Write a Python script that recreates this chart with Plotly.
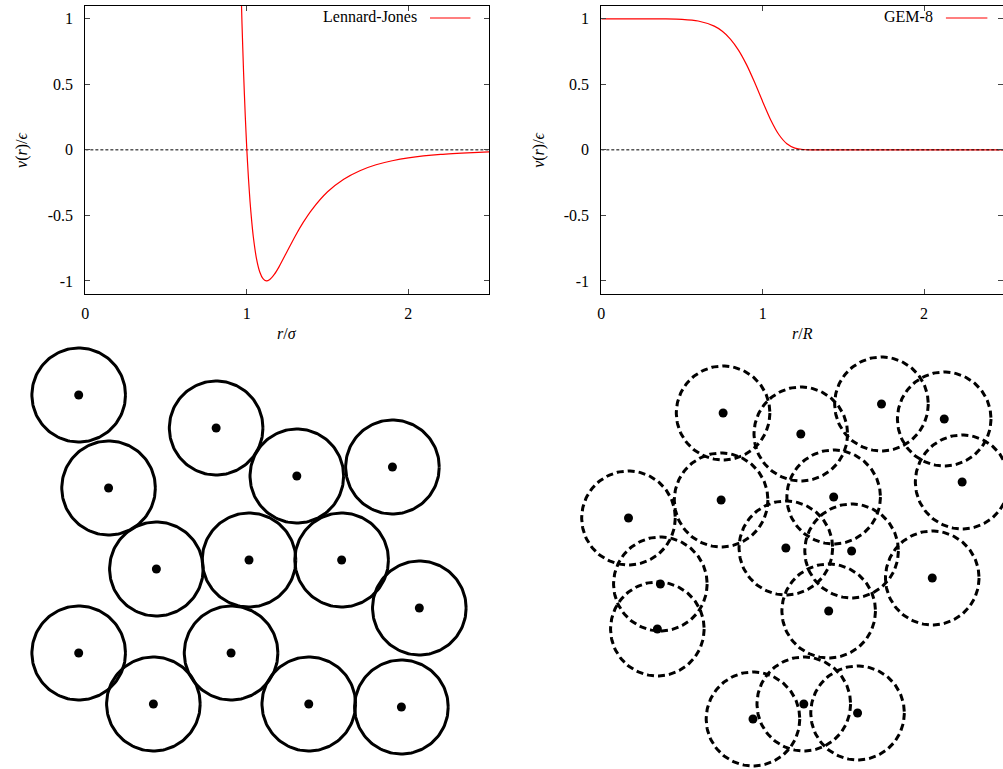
import numpy as np
import plotly.graph_objects as go

# ---------------- data ----------------
lj_r = [0.96, 0.97, 0.98, 0.99, 1.00, 1.01, 1.02, 1.03, 1.04, 1.06, 1.08, 1.10, 1.12,
        1.14, 1.17, 1.20, 1.25, 1.30, 1.35, 1.40, 1.50, 1.60, 1.70, 1.80, 1.90, 2.00,
        2.20, 2.40, 2.50]
lj_v = [1.418, 0.963, 0.582, 0.264, 0.0, -0.218, -0.398, -0.544, -0.663, -0.832, -0.932,
        -0.983, -1.000, -0.992, -0.951, -0.891, -0.774, -0.657, -0.552, -0.461, -0.320,
        -0.224, -0.159, -0.114, -0.083, -0.0615, -0.035, -0.021, -0.016]

gem_r = [0.0, 0.3, 0.4, 0.5, 0.6, 0.7, 0.75, 0.8, 0.85, 0.9, 0.95, 1.0, 1.05, 1.1, 1.15,
         1.2, 1.25, 1.3, 1.4, 1.6, 2.0, 2.5]
gem_v = [1.0, 1.0, 0.9993, 0.9961, 0.9833, 0.9440, 0.9047, 0.8455, 0.7615, 0.6502, 0.5151,
         0.3679, 0.2282, 0.1172, 0.0469, 0.0136, 0.0026, 0.0003, 0.0, 0.0, 0.0, 0.0]

zero_x = [0.0, 2.5]
zero_y = [0.0, 0.0]

y_ticks = [-1, -0.5, 0, 0.5, 1]
y_ticklabels = ["-1", "-0.5", "0", "0.5", "1"]
x_ticks = [0, 1, 2]
x_ticklabels = ["0", "1", "2"]

# particle centres (hard spheres, left) and soft particles (right)
hard_x = [75, 213, 105, 294, 390, 153, 246, 339, 417, 75, 228, 150, 306, 399]
hard_y = [395, 428, 488, 476, 467, 569, 560, 560, 608, 653, 653, 704, 704, 707]
soft_x = [722, 800, 881, 944, 962, 627, 720, 833, 785, 851, 932, 659, 656, 828, 752, 803, 857]
soft_y = [413, 434, 404, 419, 482, 518, 500, 497, 548, 551, 578, 584, 629, 611, 719, 704, 713]
particle_radius = 47

# ---------------- layout helpers ----------------
W, H = 1003, 769
FONT = "Liberation Serif, DejaVu Serif, serif"
UNIT = 162.0  # pixels per unit r on the top panels


def px(x):
    return x / W


def py(y):
    return 1 - y / H


def circle_path(cx, cy, r, n=140):
    xs, ys = [], []
    th = np.linspace(0, 2 * np.pi, n)
    for x0, y0 in zip(cx, cy):
        xs += list(x0 + r * np.cos(th)) + [None]
        ys += list(y0 + r * np.sin(th)) + [None]
    return xs, ys


fig = go.Figure()

# top-left: Lennard-Jones
fig.add_trace(go.Scatter(x=zero_x, y=zero_y, mode="lines", xaxis="x", yaxis="y",
                         line=dict(color="black", width=1, dash="3px,2px"), showlegend=False))
fig.add_trace(go.Scatter(x=lj_r, y=lj_v, mode="lines", xaxis="x", yaxis="y",
                         line=dict(color="#ff0000", width=1.2, shape="spline", smoothing=0.6),
                         showlegend=False))
# top-right: GEM-8
fig.add_trace(go.Scatter(x=zero_x, y=zero_y, mode="lines", xaxis="x2", yaxis="y4",
                         line=dict(color="black", width=1, dash="3px,2px"), showlegend=False))
fig.add_trace(go.Scatter(x=gem_r, y=gem_v, mode="lines", xaxis="x2", yaxis="y2",
                         line=dict(color="#ff0000", width=1.2, shape="spline", smoothing=0.6),
                         showlegend=False))

# bottom: particles
hx, hy = circle_path(hard_x, hard_y, particle_radius)
fig.add_trace(go.Scatter(x=hx, y=hy, mode="lines", xaxis="x3", yaxis="y3",
                         line=dict(color="black", width=3), showlegend=False))
fig.add_trace(go.Scatter(x=hard_x, y=hard_y, mode="markers", xaxis="x3", yaxis="y3",
                         marker=dict(color="black", size=9), showlegend=False))
sx, sy = circle_path(soft_x, soft_y, particle_radius)
fig.add_trace(go.Scatter(x=sx, y=sy, mode="lines", xaxis="x3", yaxis="y3",
                         line=dict(color="black", width=3, dash="7px,4px"), showlegend=False))
fig.add_trace(go.Scatter(x=soft_x, y=soft_y, mode="markers", xaxis="x3", yaxis="y3",
                         marker=dict(color="black", size=9), showlegend=False))

tickfont = dict(family=FONT, size=16, color="black")
axis_common = dict(showline=True, linecolor="black", linewidth=1.2, mirror="ticks",
                   ticks="inside", ticklen=5, tickwidth=1, tickcolor="#444",
                   showgrid=False, zeroline=False, tickfont=tickfont)

ydom = [py(294), py(5.7)]
right_left = 599.7
fig.update_layout(
    width=W, height=H, margin=dict(l=0, r=0, t=0, b=0),
    paper_bgcolor="white", plot_bgcolor="white",
    xaxis=dict(domain=[px(81.7), px(487)], range=[0, 2.5], anchor="y",
               tickvals=x_ticks, ticktext=x_ticklabels, ticklabelstandoff=5, **axis_common),
    yaxis=dict(domain=ydom, range=[-1.1, 1.1], anchor="x",
               tickvals=y_ticks, ticktext=y_ticklabels, ticklabelstandoff=8, **axis_common),
    xaxis2=dict(domain=[px(right_left), 1], range=[0, (W - right_left) / UNIT], anchor="y2",
                tickvals=x_ticks, ticktext=x_ticklabels, ticklabelstandoff=5, **axis_common),
    yaxis2=dict(domain=ydom, range=[-1.1, 1.1], anchor="x2", showline=True, linecolor="black",
                linewidth=1.2, mirror=False, ticks="inside", ticklen=5, tickwidth=1,
                tickcolor="#444", showgrid=False, zeroline=False, tickfont=tickfont,
                tickvals=y_ticks, ticktext=y_ticklabels, ticklabelstandoff=8),
    yaxis4=dict(overlaying="y2", side="right", anchor="x2", range=[-1.1, 1.1],
                showline=False, ticks="inside", ticklen=5, tickwidth=1, tickcolor="#444",
                tickvals=y_ticks, showticklabels=False, showgrid=False, zeroline=False),
    xaxis3=dict(domain=[0, 1], range=[0, W], visible=False, anchor="y3"),
    yaxis3=dict(domain=[0, py(340)], range=[H, 340], visible=False, anchor="x3"),
)

ann_font = dict(family=FONT, size=16, color="black")
annotations = [
    dict(text="<i>r</i>/<i>σ</i>", x=px(284), y=py(333), xref="paper", yref="paper",
         showarrow=False, font=ann_font, xanchor="center", yanchor="middle"),
    dict(text="<i>r</i>/<i>R</i>", x=px(802), y=py(333), xref="paper", yref="paper",
         showarrow=False, font=ann_font, xanchor="center", yanchor="middle"),
    dict(text="<i>v</i>(<i>r</i>)/<i>ϵ</i>", x=px(18), y=py(150), xref="paper", yref="paper",
         showarrow=False, font=ann_font, textangle=-90, xanchor="center", yanchor="middle"),
    dict(text="<i>v</i>(<i>r</i>)/<i>ϵ</i>", x=px(537), y=py(150), xref="paper", yref="paper",
         showarrow=False, font=ann_font, textangle=-90, xanchor="center", yanchor="middle"),
    dict(text="Lennard-Jones", x=px(417), y=py(17), xref="paper", yref="paper",
         showarrow=False, font=ann_font, xanchor="right", yanchor="middle"),
    dict(text="GEM-8", x=px(935), y=py(17), xref="paper", yref="paper",
         showarrow=False, font=ann_font, xanchor="right", yanchor="middle"),
]
fig.update_layout(annotations=annotations)

shapes = [
    dict(type="line", xref="paper", yref="paper", x0=px(427.7), x1=px(468.3),
         y0=py(18), y1=py(18), line=dict(color="#ff0000", width=1.2)),
    dict(type="line", xref="paper", yref="paper", x0=px(945.7), x1=px(987.3),
         y0=py(18), y1=py(18), line=dict(color="#ff0000", width=1.2)),
]
fig.update_layout(shapes=shapes)

fig.write_html("out.html")
